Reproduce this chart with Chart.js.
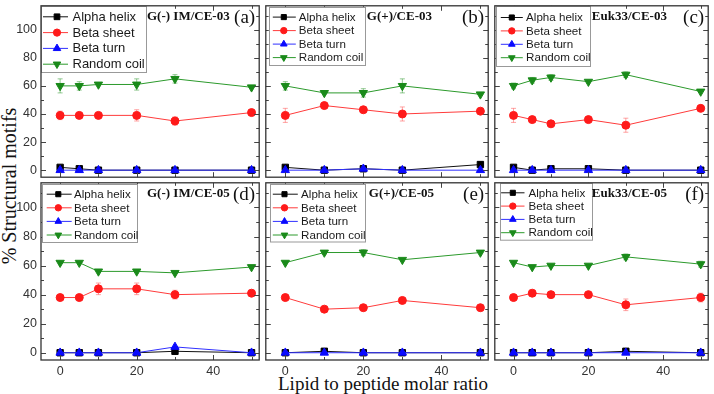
<!DOCTYPE html>
<html><head><meta charset="utf-8">
<script src="https://cdn.jsdelivr.net/npm/chart.js@4.4.1/dist/chart.umd.min.js"></script>
<style>
html,body{margin:0;padding:0;background:#fff;}
#wrap{position:relative;width:714px;height:394px;overflow:hidden;background:#fff;}
#wrap canvas{position:absolute;}
.ax{position:absolute;font-family:"Liberation Serif",serif;color:#111;white-space:nowrap;line-height:1;transform:translate(-50%,-50%);}
#ytitle{left:9px;top:186px;font-size:20px;transform:translate(-50%,-50%) rotate(-90deg);}
#xtitle{left:383px;top:383px;font-size:19px;}
</style></head>
<body><div id="wrap">
<div class="ax" id="ytitle">% Structural motifs</div>
<div class="ax" id="xtitle">Lipid to peptide molar ratio</div>
</div>
<script>
// ---------- data ----------
const seriesNames = ['Alpha helix', 'Beta sheet', 'Beta turn', 'Random coil'];
const panelTitles = ['G(-) IM/CE-03', 'G(+)/CE-03', 'Euk33/CE-03', 'G(-) IM/CE-05', 'G(+)/CE-05', 'Euk33/CE-05'];
const panelLetters = ['(a)', '(b)', '(c)', '(d)', '(e)', '(f)'];
const yTickValues = [0, 20, 40, 60, 80, 100];
const xTickValues = [0, 20, 40];

// (a) G(-) IM/CE-03
const ratioA = [0, 5, 10, 20, 30, 50];
const alphaA = [2, 1, 0, 0, 0, 0];
const sheetA = [39, 39, 39, 39, 35, 41];
const turnA = [0, 0, 0, 0, 0, 0];
const coilA = [60, 60, 61, 61, 65, 59];
const sheetErrA = [3, 0, 0, 4, 3, 0];
const coilErrA = [5, 3, 0, 4, 3, 0];

// (b) G(+)/CE-03
const ratioB = [0, 10, 20, 30, 50];
const alphaB = [2, 0, 1, 0, 4];
const sheetB = [39, 46, 43, 40, 42];
const turnB = [0, 0, 1, 0, 0];
const coilB = [60, 55, 55, 60, 54];
const sheetErrB = [5, 0, 0, 5, 0];
const coilErrB = [3, 0, 3, 5, 0];

// (c) Euk33/CE-03
const ratioC = [0, 5, 10, 20, 30, 50];
const alphaC = [2, 0, 1, 1, 0, 0];
const sheetC = [39, 36, 33, 36, 32, 44];
const turnC = [0, 0, 0, 0, 0, 0];
const coilC = [60, 64, 66, 63, 68, 56];
const sheetErrC = [5, 2, 0, 0, 5, 0];
const coilErrC = [2, 2, 2, 0, 2, 0];

// (d) G(-) IM/CE-05
const ratioD = [0, 5, 10, 20, 30, 50];
const alphaD = [0, 0, 0, 0, 1, 0];
const sheetD = [38, 38, 44, 44, 40, 41];
const turnD = [0, 0, 0, 0, 4, 0];
const coilD = [62, 62, 56, 56, 55, 59];
const sheetErrD = [0, 0, 4, 4, 3, 0];
const coilErrD = [0, 0, 0, 0, 0, 0];

// (e) G(+)/CE-05
const ratioE = [0, 10, 20, 30, 50];
const alphaE = [0, 1, 0, 0, 0];
const sheetE = [38, 30, 31, 36, 31];
const turnE = [0, 0, 0, 0, 0];
const coilE = [62, 69, 69, 64, 69];
const sheetErrE = [0, 0, 1, 1, 0];
const coilErrE = [0, 1, 2, 0, 0];

// (f) Euk33/CE-05
const ratioF = [0, 5, 10, 20, 30, 50];
const alphaF = [0, 0, 0, 0, 1, 0];
const sheetF = [38, 41, 40, 40, 33, 38];
const turnF = [0, 0, 0, 0, 0, 0];
const coilF = [62, 59, 60, 60, 66, 61];
const sheetErrF = [0, 2, 0, 0, 4, 3];
const coilErrF = [0, 0, 0, 0, 2, 2];

// ---------- assembly ----------
const panelData = [
  [ratioA, alphaA, sheetA, turnA, coilA, sheetErrA, coilErrA],
  [ratioB, alphaB, sheetB, turnB, coilB, sheetErrB, coilErrB],
  [ratioC, alphaC, sheetC, turnC, coilC, sheetErrC, coilErrC],
  [ratioD, alphaD, sheetD, turnD, coilD, sheetErrD, coilErrD],
  [ratioE, alphaE, sheetE, turnE, coilE, sheetErrE, coilErrE],
  [ratioF, alphaF, sheetF, turnF, coilF, sheetErrF, coilErrF]
];

// ---------- styles / layout ----------
const cols = [[41, 263], [263, 492], [492, 712]];
const rows = [[1, 180], [180, 360]];
const styles = [
  {color: '#000000', line: '#111111', style: 'rect', rot: 0, r: 4.5, order: 2, err: 'rgba(0,0,0,0.4)'},
  {color: '#ff1a1a', line: '#ff3b3b', style: 'circle', rot: 0, r: 4, order: 3, err: 'rgba(255,90,90,0.55)'},
  {color: '#0a0aff', line: '#3030ff', style: 'triangle', rot: 0, r: 4.8, order: 1, err: 'rgba(40,40,255,0.5)'},
  {color: '#1a8a1a', line: '#2c9a2c', style: 'triangle', rot: 180, r: 4.8, order: 4, err: 'rgba(40,150,40,0.5)'}
];
const legendCfg = [
  {bx: 0, by: 0, bw: 105, bh: 66, font: 13, row0: 11, rowH: 15.8, l1: 2, l2: 27, mk: 16, tx: 31.5, r: 0.9, tt: 106},
  {bx: 3, by: 1, bw: 96, bh: 58, font: 11.6, row0: 11.3, rowH: 13.5, l1: 7, l2: 30, mk: 18, tx: 33, r: 0.8, tt: 101},
  {bx: 1, by: 0, bw: 94, bh: 60, font: 11.6, row0: 11.7, rowH: 13.4, l1: 6, l2: 28, mk: 17, tx: 31.3, r: 0.8, tt: 97},
  {bx: 1, by: 1, bw: 95, bh: 58, font: 11.6, row0: 11.4, rowH: 13.6, l1: 5.7, l2: 30.7, mk: 17.3, tx: 33, r: 0.8, tt: 106},
  {bx: 4, by: 1, bw: 95, bh: 57.5, font: 11.6, row0: 11.4, rowH: 13.6, l1: 7, l2: 32, mk: 18.7, tx: 35.3, r: 0.8, tt: 103},
  {bx: 4.7, by: 0, bw: 92, bh: 56.7, font: 11.6, row0: 10, rowH: 13.3, l1: 6.3, l2: 29.7, mk: 18, tx: 33.7, r: 0.8, tt: 97}
];

const decorPlugin = {
  id: 'decor',
  beforeDatasetsDraw(chart) {
    const ctx = chart.ctx, xs = chart.scales.x, ys = chart.scales.y;
    chart.data.datasets.forEach(ds => {
      if (!ds.errors) return;
      ctx.save();
      ctx.strokeStyle = ds.errColor;
      ctx.lineWidth = 1;
      ds.data.forEach((p, i) => {
        const e = ds.errors[i];
        if (!e) return;
        const px = xs.getPixelForValue(p.x);
        const y1 = ys.getPixelForValue(p.y + e), y2 = ys.getPixelForValue(p.y - e);
        ctx.beginPath();
        ctx.moveTo(px, y1); ctx.lineTo(px, y2);
        ctx.moveTo(px - 2.5, y1); ctx.lineTo(px + 2.5, y1);
        ctx.moveTo(px - 2.5, y2); ctx.lineTo(px + 2.5, y2);
        ctx.stroke();
      });
      ctx.restore();
    });
  },
  afterDraw(chart) {
    const ctx = chart.ctx, a = chart.chartArea, xs = chart.scales.x, ys = chart.scales.y;
    const idx = chart.options.plugins.decor.index;
    const lg = legendCfg[idx];
    ctx.save();
    // ticks (inward, all sides)
    ctx.strokeStyle = '#444';
    ctx.lineWidth = 1;
    ctx.beginPath();
    for (let v = 0; v <= 50; v += 10) {
      const px = Math.round(xs.getPixelForValue(v)) + 0.5;
      const len = v % 20 === 0 ? 5 : 3;
      ctx.moveTo(px, a.bottom); ctx.lineTo(px, a.bottom - len);
      ctx.moveTo(px, a.top); ctx.lineTo(px, a.top + len);
    }
    for (let v = 0; v <= 110; v += 10) {
      const py = Math.round(ys.getPixelForValue(v)) + 0.5;
      const len = v % 20 === 0 ? 5 : 3;
      ctx.moveTo(a.left, py); ctx.lineTo(a.left + len, py);
      ctx.moveTo(a.right, py); ctx.lineTo(a.right - len, py);
    }
    ctx.stroke();
    // legend box
    const bx = a.left + lg.bx, by = a.top + lg.by;
    ctx.fillStyle = '#fff';
    ctx.fillRect(bx, by, lg.bw, lg.bh);
    ctx.strokeStyle = '#999';
    ctx.lineWidth = 1;
    ctx.strokeRect(Math.round(bx) + 0.5, Math.round(by) + 0.5, lg.bw, lg.bh);
    ctx.font = lg.font + 'px "Liberation Sans", Arial, sans-serif';
    ctx.textBaseline = 'middle';
    ctx.textAlign = 'left';
    chart.data.datasets.forEach((ds, i) => {
      const y = a.top + lg.row0 + i * lg.rowH;
      ctx.strokeStyle = ds.borderColor;
      ctx.lineWidth = 1;
      ctx.beginPath();
      ctx.moveTo(a.left + lg.l1, y); ctx.lineTo(a.left + lg.l2, y);
      ctx.stroke();
      ctx.fillStyle = ds.pointBackgroundColor;
      ctx.strokeStyle = ds.pointBorderColor;
      Chart.helpers.drawPoint(ctx, {pointStyle: ds.pointStyle, rotation: ds.pointRotation, radius: ds.pointRadius * lg.r, borderWidth: 1}, a.left + lg.mk, y);
      ctx.fillStyle = '#1a1a1a';
      ctx.fillText(ds.label, a.left + lg.tx, y + 0.5);
    });
    // panel title + letter
    ctx.fillStyle = '#111';
    ctx.font = 'bold 13px "Liberation Serif", "Times New Roman", serif';
    ctx.fillText(panelTitles[idx], a.left + lg.tt, a.top + 10.5);
    ctx.font = '19px "Liberation Serif", "Times New Roman", serif';
    ctx.textAlign = 'right';
    ctx.fillText(panelLetters[idx], a.right - 4, a.top + 12.5);
    // frame
    ctx.strokeStyle = '#333';
    ctx.lineWidth = 1.3;
    ctx.strokeRect(a.left, a.top, a.right - a.left, a.bottom - a.top);
    ctx.restore();
  }
};

const wrap = document.getElementById('wrap');
panelData.forEach((pd, idx) => {
  const r = Math.floor(idx / 3), c = idx % 3;
  const [x0, x1] = cols[c], [y0, y1] = rows[r];
  const isLeft = c === 0, isBottom = r === 1;
  const axisW = isLeft ? 41 : 0, axisH = isBottom ? 20 : 0;
  const padL = isLeft ? 0 : 3, padR = 2, padT = r === 0 ? 1 : 3, padB = 3;
  const left = x0 - axisW - padL, top = y0 - padT;
  const w = x1 + padR - left, h = y1 + axisH + padB - top;
  const cv = document.createElement('canvas');
  cv.width = w; cv.height = h;
  cv.style.left = left + 'px'; cv.style.top = top + 'px';
  cv.style.width = w + 'px'; cv.style.height = h + 'px';
  wrap.appendChild(cv);
  const xv = pd[0];
  const datasets = [1, 2, 3, 4].map((k, si) => {
    const st = styles[si];
    const ds = {
      label: seriesNames[si],
      data: xv.map((x, i) => ({x: x, y: pd[k][i]})),
      borderColor: st.line,
      backgroundColor: st.color,
      pointBackgroundColor: st.color,
      pointBorderColor: st.color,
      pointStyle: st.style,
      pointRotation: st.rot,
      pointRadius: st.r,
      pointBorderWidth: 1,
      borderWidth: 1,
      tension: 0,
      order: st.order,
      errColor: st.err
    };
    if (si === 1) ds.errors = pd[5];
    if (si === 3) ds.errors = pd[6];
    return ds;
  });
  new Chart(cv, {
    type: 'line',
    data: {datasets},
    plugins: [decorPlugin],
    options: {
      responsive: false,
      animation: false,
      devicePixelRatio: 1,
      events: [],
      layout: {padding: {left: padL, right: padR, top: padT, bottom: padB}},
      plugins: {legend: {display: false}, tooltip: {enabled: false}, decor: {index: idx}},
      scales: {
        x: {
          type: 'linear', min: -5, max: 52, display: isBottom,
          afterBuildTicks: s => { s.ticks = xTickValues.map(v => ({value: v})); },
          afterFit: s => { s.height = axisH; s.paddingLeft = 0; s.paddingRight = 0; },
          grid: {display: false, drawTicks: false},
          border: {display: false},
          ticks: {padding: 4, color: '#333', font: {family: '"Liberation Sans", Arial, sans-serif', size: 12.5}}
        },
        y: {
          type: 'linear', min: -5, max: 117, display: isLeft,
          afterBuildTicks: s => { s.ticks = yTickValues.map(v => ({value: v})); },
          afterFit: s => { s.width = axisW; s.paddingTop = 0; s.paddingBottom = 0; },
          grid: {display: false, drawTicks: false},
          border: {display: false},
          ticks: {padding: 4, color: '#333', font: {family: '"Liberation Sans", Arial, sans-serif', size: 12.5}}
        }
      }
    }
  });
});
</script>
</body></html>
